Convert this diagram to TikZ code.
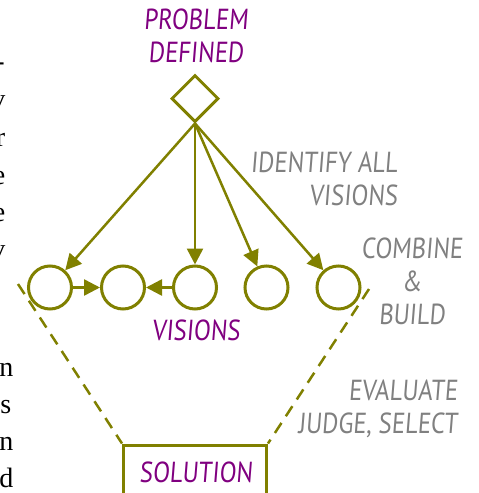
\documentclass[tikz,border=0pt]{standalone}
\usepackage{fontspec}
\usetikzlibrary{arrows.meta,shapes.geometric}
\newfontfamily\hand[FakeStretch=0.85,FakeSlant=0.08]{PT Sans}
\newfontfamily\bodyserif{Liberation Serif}
\definecolor{olivec}{HTML}{808000}
\definecolor{purp}{HTML}{800080}
\definecolor{grayt}{HTML}{808080}
\begin{document}
\begin{tikzpicture}[x=1pt,y=-1pt,
  lbl/.style={font=\hand\fontsize{29}{33}\selectfont, inner sep=0pt},
  purplbl/.style={lbl,text=purp,align=center},
  graylbl/.style={lbl,text=grayt},
  vis/.style={circle,draw=olivec,line width=3pt,minimum size=43pt,inner sep=0pt},
  arr/.style={draw=olivec,line width=2.5pt,-{Triangle[length=16pt,width=16pt]}},
  dashline/.style={draw=olivec,line width=2.5pt,dash pattern=on 12pt off 8pt},
  sidetext/.style={font=\bodyserif\fontsize{28}{30}\selectfont,inner sep=0pt,anchor=base east}
 ]
\useasboundingbox (0,0) rectangle (479,493);
% fragments of neighbouring text at the left edge
\node[sidetext] (s1) at (5,70) {-};
\node[sidetext] (s2) at (5.5,108) {v};
\node[sidetext] (s3) at (5.5,146) {r};
\node[sidetext] (s4) at (5.5,184) {e};
\node[sidetext] (s5) at (5.5,221) {e};
\node[sidetext] (s6) at (5.5,258) {v};
\node[sidetext] (s7) at (13.5,376) {n};
\node[sidetext] (s8) at (11.5,413) {s};
\node[sidetext] (s9) at (13.5,450) {n};
\node[sidetext] (s10) at (13.5,487) {d};
% problem
\node[purplbl] (prob) at (196,35.5) {PROBLEM\\DEFINED};
\node[diamond,draw=olivec,line width=3pt,minimum size=47pt,inner sep=0pt,aspect=1] (dia) at (195,98.5) {};
% visions
\node[vis] (c1) at (50,287.5) {};
\node[vis] (c2) at (123,287.5) {};
\node[vis] (c3) at (195,287.5) {};
\node[vis] (c4) at (266.5,287.5) {};
\node[vis] (c5) at (338.5,287.5) {};
\draw[arr] (dia.south) -- (c1);
\draw[arr] (dia.south) -- (c3);
\draw[arr] (dia.south) -- (c4);
\draw[arr] (dia.south) -- (c5);
\draw[arr] (c1) -- (c2);
\draw[arr] (c3) -- (c2);
\node[purplbl] (vislbl) at (196,330) {VISIONS};
% solution
\node[draw=olivec,line width=3pt,minimum width=143pt,minimum height=74pt,inner sep=0pt] (sol) at (195,482) {};
\node[purplbl] (sollbl) at (196,472) {SOLUTION};
\coordinate (dl) at (18,284);
\coordinate (dr) at (369,289);
\draw[dashline] (dl) -- (sol.north west);
\draw[dashline] (dr) -- (sol.north east);
% grey notes
\node[graylbl,align=right] (ident) at (324,178.5) {IDENTIFY ALL\\VISIONS};
\node[graylbl,align=center] (comb) at (412,281) {COMBINE\\\&\\BUILD};
\node[graylbl,align=right] (eval) at (378,409) {EVALUATE\\JUDGE, SELECT};
\end{tikzpicture}
\end{document}
